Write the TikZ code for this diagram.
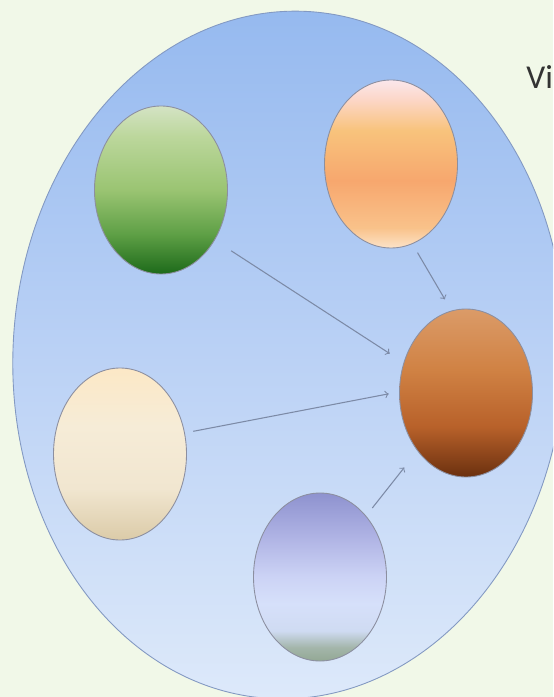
\documentclass[tikz,border=0pt]{standalone}
\usepackage{fontspec}
\setmainfont{Carlito}
\usepackage{tikz}
\usetikzlibrary{positioning,shapes.geometric}
\usepackage{xcolor}

\definecolor{bgc}{HTML}{F1F8E8}
\definecolor{cellline}{HTML}{8399C2}
\definecolor{blobline}{HTML}{8C8FA0}
\definecolor{arrowc}{HTML}{7C8AA6}
\definecolor{textc}{HTML}{333333}
% big cell
\definecolor{cellt}{HTML}{95B9EF}
\definecolor{cellm}{HTML}{BAD1F5}
\definecolor{cellb}{HTML}{DDE9FA}
% green
\definecolor{ga}{HTML}{D4E3C4}
\definecolor{gb}{HTML}{BCD79C}
\definecolor{gc}{HTML}{9AC472}
\definecolor{gd}{HTML}{5FA046}
\definecolor{ge}{HTML}{1D6A1A}
% peach
\definecolor{pa}{HTML}{FBE7EC}
\definecolor{pb}{HTML}{FCD6C6}
\definecolor{pc}{HTML}{F8C37C}
\definecolor{pd}{HTML}{F7A76E}
\definecolor{pe}{HTML}{F9C28A}
\definecolor{pf}{HTML}{FCE3C8}
% cream
\definecolor{ca}{HTML}{FCE8C6}
\definecolor{cb}{HTML}{F6ECD7}
\definecolor{cc}{HTML}{F1E6D0}
\definecolor{cd}{HTML}{DBCBA8}
% lavender
\definecolor{la}{HTML}{8E92CF}
\definecolor{lb}{HTML}{AFB3E4}
\definecolor{lc}{HTML}{CCD3F5}
\definecolor{ld}{HTML}{D6E0FA}
\definecolor{le}{HTML}{CFDBF2}
\definecolor{lf}{HTML}{A3B5AA}
\definecolor{lg}{HTML}{93A894}
% brown
\definecolor{ba}{HTML}{DB9B68}
\definecolor{bb}{HTML}{D08244}
\definecolor{bc}{HTML}{B8612A}
\definecolor{bd}{HTML}{6B300F}

\pgfdeclareverticalshading{cellshade}{100bp}{color(0bp)=(cellb); color(25bp)=(cellb); color(50bp)=(cellm); color(75bp)=(cellt); color(100bp)=(cellt)}
\pgfdeclareverticalshading{greenshade}{100bp}{color(0bp)=(ge); color(25bp)=(ge); color(37bp)=(gd); color(50bp)=(gc); color(66bp)=(gb); color(75bp)=(ga); color(100bp)=(ga)}
\pgfdeclareverticalshading{peachshade}{100bp}{color(0bp)=(pf); color(25bp)=(pf); color(31bp)=(pe); color(45bp)=(pd); color(60bp)=(pc); color(69bp)=(pb); color(75bp)=(pa); color(100bp)=(pa)}
\pgfdeclareverticalshading{creamshade}{100bp}{color(0bp)=(cd); color(25bp)=(cd); color(40bp)=(cc); color(58bp)=(cb); color(75bp)=(ca); color(100bp)=(ca)}
\pgfdeclareverticalshading{lavshade}{100bp}{color(0bp)=(lg); color(25bp)=(lg); color(29bp)=(lf); color(34bp)=(le); color(42bp)=(ld); color(50bp)=(lc); color(62bp)=(lb); color(75bp)=(la); color(100bp)=(la)}
\pgfdeclareverticalshading{brownshade}{100bp}{color(0bp)=(bd); color(25bp)=(bd); color(40bp)=(bc); color(57bp)=(bb); color(75bp)=(ba); color(100bp)=(ba)}

\begin{document}
\begin{tikzpicture}[x=0.2mm,y=-0.2mm,
  every node/.style={font=\small},
  cell/.style={ellipse,draw=cellline,line width=0.5pt,shade,shading=cellshade,minimum width=110.4mm,minimum height=137.6mm,inner sep=0pt},
  blob/.style={ellipse,draw=blobline,line width=0.5pt,shade,minimum width=26.6mm,minimum height=33.6mm,inner sep=0pt},
  feed/.style={->,draw=arrowc,line width=0.6pt}
]
  \fill[bgc] (0,0) rectangle (553,697);
  \clip (0,0) rectangle (553,697);
  \node[cell,rotate=-3] (cell) at (289,355) {};
  \node[blob,shading=greenshade] (leaf) at (161,190) {};
  \node[blob,shading=peachshade] (peach) at (391,164) {};
  \node[blob,shading=creamshade,minimum height=34.4mm] (cream) at (120,454) {};
  \node[blob,shading=lavshade] (lav) at (320,577) {};
  \node[blob,shading=brownshade] (core) at (466,393) {};
  \draw[feed,shorten <=3.9mm,shorten >=3.3mm] (leaf.-43) -- (core.154);
  \draw[feed,shorten <=2mm,shorten >=2.6mm] (peach.-75) -- (core.100);
  \draw[feed,shorten <=1.7mm,shorten >=2.1mm] (cream.18) -- (core.179);
  \draw[feed,shorten <=2mm,shorten >=4.2mm] (lav.53) -- (core.-130);
  \node[anchor=base west,inner sep=0pt,font=\fontsize{19}{23}\selectfont,text=textc] (title) at (526,89) {Vi};
\end{tikzpicture}
\end{document}
